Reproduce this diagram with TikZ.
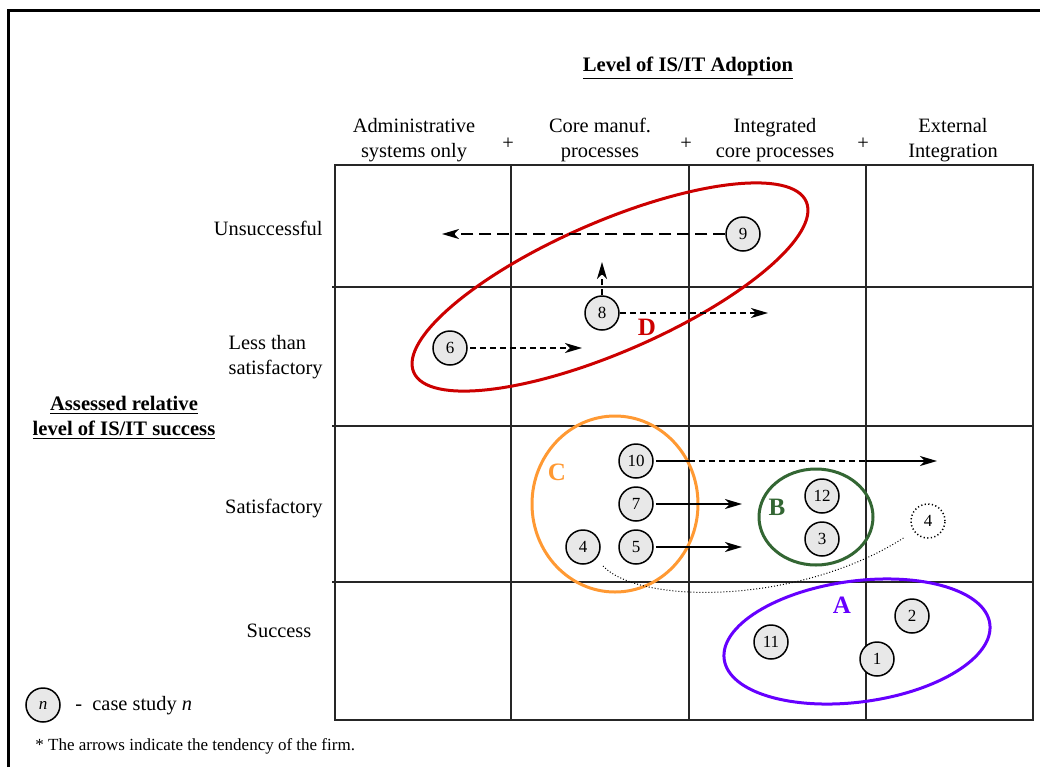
\documentclass[tikz,border=0pt]{standalone}
\usepackage{fontspec}
\setmainfont{Liberation Serif}
\usetikzlibrary{arrows.meta}
\definecolor{dred}{HTML}{CC0000}
\definecolor{corange}{HTML}{FF9933}
\definecolor{cgreen}{HTML}{336633}
\definecolor{cpurple}{HTML}{6600FF}
\definecolor{cfill}{HTML}{E8E8E8}
\begin{document}
\begin{tikzpicture}[x=0.5pt,y=-0.5pt,
  every node/.style={font=\fontsize{10.2}{12.5}\selectfont, inner sep=0pt},
  case/.style={circle, draw, line width=0.75pt, fill=cfill, minimum size=17pt, font=\fontsize{8.5}{10}\selectfont},
  ghost/.style={circle, draw, line width=0.75pt, dash pattern=on 0.6pt off 1.2pt, fill=white, minimum size=17pt, font=\fontsize{8.5}{10}\selectfont},
  gridline/.style={line width=0.75pt, black!85},
  tend/.style={line width=0.8pt, -{Stealth[length=8.5pt,width=5pt,inset=2.5pt]}},
  plainseg/.style={line width=0.8pt},
  longdash/.style={dash pattern=on 6pt off 3pt},
  shortdash/.style={dash pattern=on 3pt off 2pt},
  groupline/.style={line width=1.5pt},
  grouplabel/.style={font=\fontsize{12.5}{14}\selectfont\bfseries},
  boldtitle/.style={font=\fontsize{10.3}{12.5}\selectfont\bfseries}
]
\useasboundingbox (0,0) rectangle (1040,767);
% outer frame
\draw[line width=1.5pt] (8.5,767) -- (8.5,10.5) -- (1040,10.5);

% grid
\draw[gridline] (335,165) rectangle (1033,720);
\foreach \xx in {511,689,866} \draw[gridline] (\xx,165) -- (\xx,720);
\foreach \yy in {287,426,582} \draw[gridline] (332,\yy) -- (1033,\yy);

% titles
\node[boldtitle, anchor=base] (ttop) at (688,71) {\underline{Level of IS/IT Adoption}};
\node[boldtitle, align=center] (tleft) at (124,418) {\underline{Assessed relative}\\\underline{level of IS/IT success}};

% column headers
\node[align=center] (h1) at (414,140) {Administrative\\systems only};
\node[align=center] (h2) at (600,140) {Core manuf.\\processes};
\node[align=center] (h3) at (775,140) {Integrated\\core processes};
\node[align=center] (h4) at (953,140) {External\\Integration};
\node (p1) at (508,144) {+};
\node (p2) at (686,144) {+};
\node (p3) at (863,144) {+};

% row labels
\node[anchor=east] (r1) at (323,228) {Unsuccessful};
\node[anchor=east, align=left] (r2) at (323,357) {Less than\\satisfactory};
\node[anchor=east] (r3) at (323,509) {Satisfactory};
\node (r4) at (279,631) {Success};

% group ellipses
\draw[groupline, dred, rotate around={23.5:(610,287)}] (610,287) ellipse [x radius=107pt, y radius=32.5pt];
\draw[groupline, corange] (615,504) ellipse [x radius=41.5pt, y radius=44pt];
\draw[groupline, cgreen] (816,517) ellipse [x radius=28.5pt, y radius=24pt];
\draw[groupline, cpurple, rotate around={7.6:(857,641.5)}] (857,641.5) ellipse [x radius=67pt, y radius=30.25pt];

\node[grouplabel, text=dred] (gD) at (647,327) {D};
\node[grouplabel, text=corange] (gC) at (557,472) {C};
\node[grouplabel, text=cgreen] (gB) at (777,507) {B};
\node[grouplabel, text=cpurple] (gA) at (842,605) {A};

% case circles
\node[case] (c9) at (743,234) {9};
\node[case] (c8) at (602,313) {8};
\node[case] (c6) at (450,348) {6};
\node[case] (c10) at (636,461) {10};
\node[case] (c7) at (636,504) {7};
\node[case] (c5) at (636,547) {5};
\node[case] (c4) at (583,547) {4};
\node[case] (c12) at (822,496) {12};
\node[case] (c3) at (822,539) {3};
\node[ghost] (g4) at (928,521) {4};
\node[case] (c2) at (912,616) {2};
\node[case] (c11) at (771,642) {11};
\node[case] (c1) at (877,659) {1};

% arrow targets
\coordinate (t9) at (442,234);
\coordinate (t8u) at (602,262);
\coordinate (t8r) at (768,313);
\coordinate (t6) at (582,348);
\coordinate (m10a) at (689,461);
\coordinate (m10b) at (866,461);
\coordinate (t10) at (937,461);
\coordinate (t7) at (742,504);
\coordinate (t5) at (742,547);
\coordinate (s4) at (603,566);
\coordinate (e4) at (905,537);

% tendencies
\draw[tend, longdash] (c9) -- (t9);
\draw[tend, shortdash] (c8.north) -- (t8u);
\draw[tend, shortdash] (c8) -- (t8r);
\draw[tend, shortdash] ([xshift=1pt]c6.east) -- (t6);
\draw[plainseg] ([xshift=1pt]c10.east) -- (m10a);
\draw[plainseg, shortdash] (m10a) -- (m10b);
\draw[tend] (m10b) -- (t10);
\draw[tend] ([xshift=1pt]c7.east) -- (t7);
\draw[tend] ([xshift=1pt]c5.east) -- (t5);
\draw[line width=0.5pt, dash pattern=on 0.5pt off 1pt] (s4) .. controls (640,605) and (800,605) .. (e4);

% legend
\node[case, font=\fontsize{8.5}{10}\selectfont\itshape] (leg) at (43,705) {n};
\node[anchor=west] (legt) at (75,706) {-\ \ case study \textit{n}};
\node[anchor=west, font=\fontsize{8.5}{10}\selectfont] (foot) at (35,746) {* The arrows indicate the tendency of the firm.};
\end{tikzpicture}
\end{document}
